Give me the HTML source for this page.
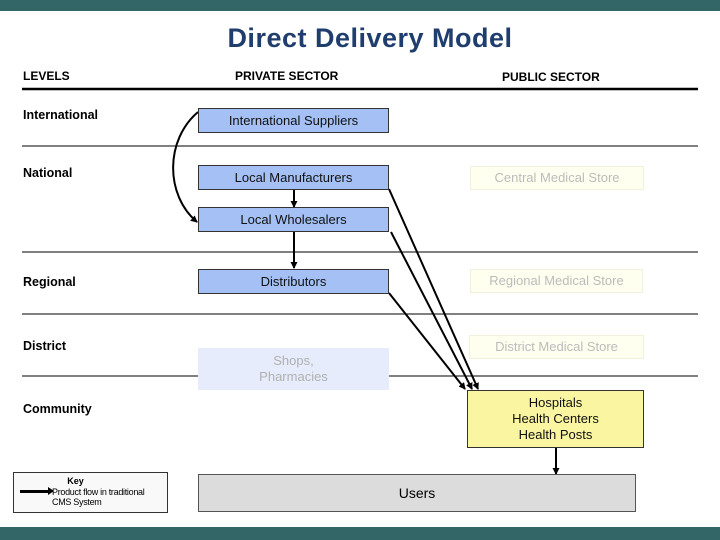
<!DOCTYPE html>
<html><head><style>
body{margin:0;width:720px;height:540px;position:relative;background:#fff;font-family:"Liberation Sans",sans-serif;overflow:hidden}
.a{position:absolute}
.box{position:absolute;box-sizing:border-box;display:flex;align-items:center;justify-content:center;text-align:center;font-size:13px;line-height:16px}
.blue{background:#a4c0f4;border:1px solid #333;color:#111}
.fade{background:#fffff0;border:1px solid #f0f0dd;color:#bbb}
.lv{position:absolute;left:23px;font-weight:bold;font-size:12.5px;color:#000}
.hd{position:absolute;font-weight:bold;font-size:12px}
</style></head><body>
<div class="a" style="left:0;top:0;width:720px;height:11px;background:#336666"></div>
<div class="a" style="left:0;top:527px;width:720px;height:13px;background:#336666"></div>
<div class="a" style="left:0;top:23px;width:740px;text-align:center;font-size:27px;font-weight:bold;color:#1f3e6e;letter-spacing:0.5px">Direct Delivery Model</div>
<div class="hd" style="left:23px;top:69px">LEVELS</div>
<div class="hd" style="left:235px;top:69px">PRIVATE SECTOR</div>
<div class="hd" style="left:502px;top:70px">PUBLIC SECTOR</div>
<div class="lv" style="top:108px">International</div>
<div class="lv" style="top:166px">National</div>
<div class="lv" style="top:275px">Regional</div>
<div class="lv" style="top:339px">District</div>
<div class="lv" style="top:402px">Community</div>
<svg class="a" style="left:0;top:0" width="720" height="540">
<defs><marker id="m" markerWidth="7" markerHeight="7" refX="6" refY="3.5" orient="auto" markerUnits="userSpaceOnUse"><path d="M0,0L7,3.5L0,7z" fill="#000"/></marker></defs>
<line x1="22" y1="89" x2="698" y2="89" stroke="#000" stroke-width="2.5"/>
<line x1="22" y1="146" x2="698" y2="146" stroke="#000"/>
<line x1="22" y1="252" x2="698" y2="252" stroke="#000"/>
<line x1="22" y1="314" x2="698" y2="314" stroke="#000"/>
<line x1="22" y1="376" x2="698" y2="376" stroke="#000"/>
<path d="M198,112 C165,140 165,195 197,222" fill="none" stroke="#000" stroke-width="2" marker-end="url(#m)"/>
<line x1="294" y1="189" x2="294" y2="207" stroke="#000" stroke-width="2" marker-end="url(#m)"/>
<line x1="294" y1="232" x2="294" y2="268" stroke="#000" stroke-width="2" marker-end="url(#m)"/>
<line x1="389" y1="189" x2="478" y2="389" stroke="#000" stroke-width="2" marker-end="url(#m)"/>
<line x1="391" y1="232" x2="472" y2="389" stroke="#000" stroke-width="2" marker-end="url(#m)"/>
<line x1="389" y1="293" x2="465" y2="389" stroke="#000" stroke-width="2" marker-end="url(#m)"/>
<line x1="556" y1="448" x2="556" y2="474" stroke="#000" stroke-width="2" marker-end="url(#m)"/>
</svg>
<div class="box blue" style="left:198px;top:108px;width:191px;height:25px">International Suppliers</div>
<div class="box blue" style="left:198px;top:165px;width:191px;height:25px">Local Manufacturers</div>
<div class="box blue" style="left:198px;top:207px;width:191px;height:25px">Local Wholesalers</div>
<div class="box blue" style="left:198px;top:269px;width:191px;height:25px">Distributors</div>
<div class="box" style="left:198px;top:348px;width:191px;height:42px;background:#e6ecfb;color:#b0b0b0">Shops,<br>Pharmacies</div>
<div class="box fade" style="left:470px;top:166px;width:174px;height:24px">Central Medical Store</div>
<div class="box fade" style="left:470px;top:269px;width:173px;height:24px">Regional Medical Store</div>
<div class="box fade" style="left:469px;top:335px;width:175px;height:24px">District Medical Store</div>
<div class="box" style="left:467px;top:390px;width:177px;height:58px;background:#faf5a0;border:1px solid #333;color:#111">Hospitals<br>Health Centers<br>Health Posts</div>
<div class="box" style="left:198px;top:474px;width:438px;height:38px;background:#dcdcdc;border:1px solid #555;font-size:14px">Users</div>
<div class="a" style="left:13px;top:472px;width:155px;height:41px;box-sizing:border-box;border:1px solid #333;background:#f9f9f9;font-size:9px;line-height:10px">
<div style="text-align:center;font-weight:bold;margin-top:3px;margin-right:30px">Key</div>
<div style="position:absolute;left:6px;top:17px;width:30px;height:3px;background:#000"></div>
<div style="position:absolute;left:34px;top:14px;width:0;height:0;border-left:6px solid #000;border-top:4px solid transparent;border-bottom:4px solid transparent"></div>
<div style="position:absolute;left:38px;top:14px;letter-spacing:-0.3px">Product flow in traditional<br>CMS System</div>
</div>
</body></html>
